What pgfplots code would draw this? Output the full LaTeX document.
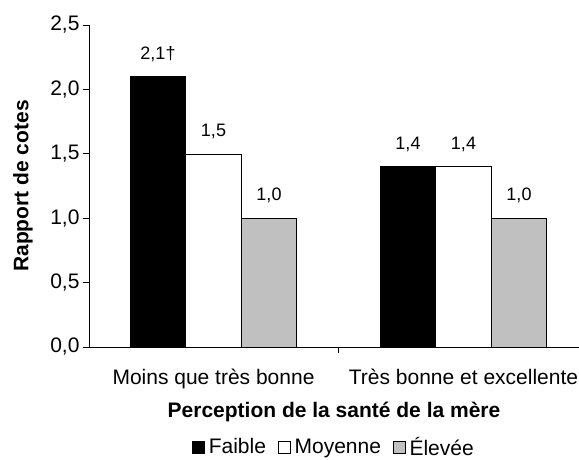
\documentclass[border=0pt]{standalone}
\usepackage{pgfplots}
\pgfplotsset{compat=1.18}
\usepackage{fontspec}
\setmainfont{Liberation Sans}
\newcommand{\fbig}{\fontsize{21bp}{25bp}\selectfont}
\newcommand{\fsmall}{\fontsize{18bp}{21bp}\selectfont}
\begin{document}
\begin{tikzpicture}
\path[use as bounding box] (-89bp,-113bp) rectangle (490bp,347bp);
\begin{axis}[
  at={(0,0)}, anchor=south west,
  scale only axis, width=490bp, height=322bp,
  ybar=0pt, bar width=55.5bp,
  xmin=-0.498, xmax=1.462, ymin=0, ymax=2.5,
  axis x line=bottom, axis y line=left,
  axis line style={-, black, line width=0.8bp},
  xtick={0.5}, xticklabels={},
  extra x ticks={0,1},
  extra x tick labels={Moins que très bonne, Très bonne et excellente},
  extra x tick style={major tick length=0pt, xticklabel style={yshift=-19bp}},
  ytick={0,0.5,1,1.5,2,2.5},
  tick align=outside, major tick length=6bp,
  tick style={black, line width=0.8bp},
  yticklabel style={/pgf/number format/.cd, use comma, fixed, fixed zerofill, precision=1, assume math mode=true},
  ticklabel style={font=\fbig},
  ylabel={Rapport de cotes},
  ylabel style={font=\bfseries\fbig, at={(axis description cs:-0.135,0.5)}, anchor=center, rotate=0},
  xlabel={Perception de la santé de la mère},
  xlabel style={font=\bfseries\fbig, at={(axis description cs:0.5,-0.2174)}, anchor=base},
  nodes near coords, point meta=explicit symbolic,
  every node near coord/.append style={font=\fsmall, black, anchor=south, inner sep=0pt, text depth=0pt, yshift=17bp},
  legend style={at={(axis description cs:0.5,-0.31)}, anchor=center, draw=none, fill=none,
    legend columns=3, font=\fbig, inner sep=0pt,
    /tikz/every even column/.append style={column sep=10bp},
    /tikz/every odd column/.append style={column sep=2bp}},
  legend image code/.code={\draw[#1, draw=black, line width=0.6bp] (0bp,-6bp) rectangle (12bp,6bp);},
]
\addplot[fill=black, draw=black, line width=0.6bp] table[x=x, y=y, meta=lab, row sep=\\] {
x y lab \\
0 2.1 2,1† \\
1 1.4 1,4 \\
};
\addplot[fill=white, draw=black, line width=0.6bp] table[x=x, y=y, meta=lab, row sep=\\] {
x y lab \\
0 1.5 1,5 \\
1 1.4 1,4 \\
};
\addplot[fill={rgb,255:red,192;green,192;blue,192}, draw=black, line width=0.6bp] table[x=x, y=y, meta=lab, row sep=\\] {
x y lab \\
0 1.0 1,0 \\
1 1.0 1,0 \\
};
\legend{Faible, Moyenne, Élevée}
\end{axis}
\end{tikzpicture}
\end{document}
